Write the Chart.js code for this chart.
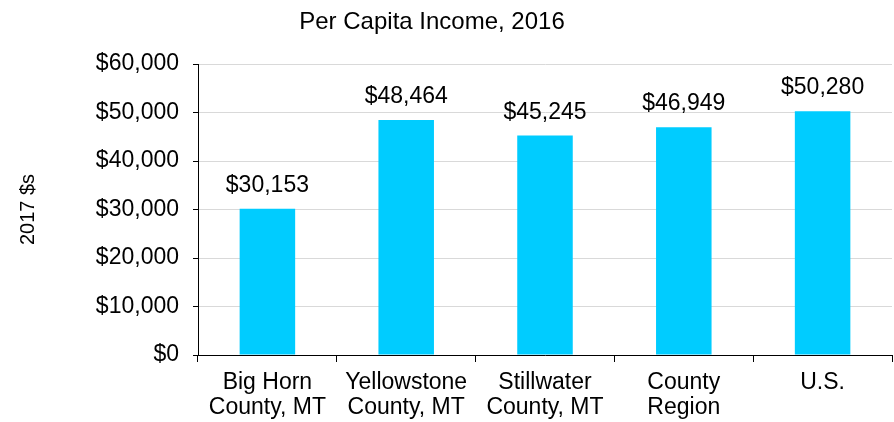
<!DOCTYPE html>
<html>
<head>
<meta charset="utf-8">
<script src="https://cdn.jsdelivr.net/npm/chart.js@4"></script>
<style>
  html, body { margin: 0; padding: 0; background: #fff; }
  #wrap { width: 894px; height: 422px; position: relative; }
</style>
</head>
<body>
<div id="wrap"><canvas id="incomeChart"></canvas></div>
<script>
// Per capita income, 2016 (in 2017 dollars)
const chartTitle = 'Per Capita Income, 2016';
const yAxisTitle = '2017 $s';
const categories = [
    ['Big Horn', 'County, MT'],
    ['Yellowstone', 'County, MT'],
    ['Stillwater', 'County, MT'],
    ['County', 'Region'],
    'U.S.'
];
const incomeValues = [30153, 48464, 45245, 46949, 50280];
const yTicks = [0, 10000, 20000, 30000, 40000, 50000, 60000];

const barColor = '#00CCFF';
const textColor = '#000';

function formatDollars(v) {
    return '$' + Number(v).toLocaleString('en-US');
}

// Title drawn by hand so it can sit left of the canvas centre like the original
const titlePlugin = {
    id: 'offsetTitle',
    afterDraw(chart) {
        const ctx = chart.ctx;
        ctx.save();
        ctx.font = '24px "Liberation Sans", Arial, sans-serif';
        ctx.fillStyle = textColor;
        ctx.textAlign = 'center';
        ctx.textBaseline = 'middle';
        ctx.fillText(chartTitle, 432, 22);
        ctx.restore();
    }
};

// Value labels above each bar
const valueLabels = {
    id: 'valueLabels',
    afterDatasetsDraw(chart) {
        const ctx = chart.ctx;
        const meta = chart.getDatasetMeta(0);
        ctx.save();
        ctx.font = '23px "Liberation Sans", Arial, sans-serif';
        ctx.fillStyle = textColor;
        ctx.textAlign = 'center';
        ctx.textBaseline = 'alphabetic';
        meta.data.forEach((bar, i) => {
            ctx.fillText(formatDollars(incomeValues[i]), bar.x, bar.y - 17);
        });
        ctx.restore();
    }
};

const ctx = document.getElementById('incomeChart').getContext('2d');
new Chart(ctx, {
    type: 'bar',
    data: {
        labels: categories,
        datasets: [{
            data: incomeValues,
            backgroundColor: barColor,
            barPercentage: 0.4,
            categoryPercentage: 1.0
        }]
    },
    options: {
        responsive: true,
        maintainAspectRatio: false,
        animation: false,
        layout: { padding: { top: 64, right: 2, left: 0, bottom: 0 } },
        plugins: {
            legend: { display: false },
            title: { display: false },
            tooltip: { enabled: false }
        },
        scales: {
            x: {
                grid: {
                    drawOnChartArea: false,
                    drawTicks: true,
                    tickLength: 7,
                    tickColor: '#000'
                },
                border: { color: '#000', width: 1 },
                ticks: {
                    color: textColor,
                    padding: 9,
                    maxRotation: 0,
                    autoSkip: false,
                    font: { family: '"Liberation Sans Narrow", "Liberation Sans", Arial, sans-serif', size: 23, lineHeight: 1.05 }
                },
                afterFit(scale) { scale.height = 67; }
            },
            y: {
                min: 0,
                max: 60000,
                afterBuildTicks(scale) {
                    scale.ticks = yTicks.map(v => ({ value: v }));
                },
                grid: {
                    color: '#d9d9d9',
                    lineWidth: 1,
                    tickLength: 5,
                    tickColor: '#000'
                },
                border: { color: '#000', width: 1 },
                ticks: {
                    color: textColor,
                    padding: 14,
                    font: { family: '"Liberation Sans", Arial, sans-serif', size: 23 },
                    callback: v => formatDollars(v)
                },
                title: {
                    display: true,
                    text: yAxisTitle,
                    color: textColor,
                    padding: { top: 16, bottom: 0 },
                    font: { family: '"Liberation Sans", Arial, sans-serif', size: 20 }
                },
                afterFit(scale) { scale.width = 198; }
            }
        }
    },
    plugins: [titlePlugin, valueLabels]
});
</script>
</body>
</html>
